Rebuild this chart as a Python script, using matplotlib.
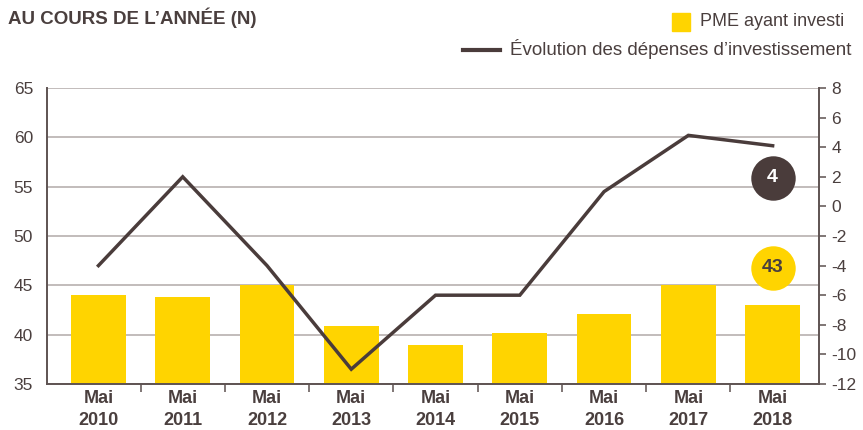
import numpy as np
import matplotlib
matplotlib.use('Agg')
import matplotlib.pyplot as plt
from matplotlib.ticker import FixedLocator
from matplotlib.transforms import offset_copy

# data
years = ['2010', '2011', '2012', '2013', '2014', '2015', '2016', '2017', '2018']
pme_investi = [44, 43.8, 45, 40.9, 39, 40.2, 42.1, 45, 43]
evolution_depenses = [-4, 2, -4, -11, -6, -6, 1, 4.8, 4.1]
left_ticks = [35, 40, 45, 50, 55, 60, 65]
right_ticks = [-12, -10, -8, -6, -4, -2, 0, 2, 4, 6, 8]

YELLOW = '#FFD400'
DARK = '#4a3c3b'
GRID = '#bdb6b5'
TEXT = '#4a3f3e'

plt.rcParams['font.family'] = ['Liberation Sans', 'DejaVu Sans']
plt.rcParams['axes.unicode_minus'] = False

fig = plt.figure(figsize=(8.63, 4.30), dpi=100)
ax1 = fig.add_axes([0.0545, 0.107, 0.8945, 0.6883])
ax2 = ax1.twinx()

x = np.arange(len(years))

# bars (left axis)
ax1.bar(x, pme_investi, width=0.65, color=YELLOW, zorder=2)
ax1.set_ylim(35, 65)
ax1.set_yticks(left_ticks)
ax1.set_xlim(-0.61, 8.55)
ax1.grid(axis='y', color=GRID, linewidth=1.3, zorder=0)
ax1.set_axisbelow(True)
ax1.set_xticks(x)
ax1.set_xticklabels(['Mai\n' + y for y in years], fontsize=13,
                    fontweight='bold', color=TEXT, linespacing=1.4)
ax1.xaxis.set_minor_locator(FixedLocator(x[:-1] + 0.5))
ax1.tick_params(axis='x', which='major', length=0, pad=4)
ax1.tick_params(axis='x', which='minor', length=6, width=1.2, color='#6a5f5e')
ax1.tick_params(axis='y', length=0, pad=10, labelsize=12.5, labelcolor=TEXT)

# line (right axis)
ax2.plot(x, evolution_depenses, color=DARK, linewidth=2.5, zorder=3,
         solid_joinstyle='miter')
ax2.set_ylim(-12, 8)
ax2.set_yticks(right_ticks)
ax2.tick_params(axis='y', length=5, width=1.2, color='#6a5f5e', pad=4,
                labelsize=12.5, labelcolor=TEXT)

for ax in (ax1, ax2):
    ax.spines['top'].set_visible(False)
    for s in ('left', 'right', 'bottom'):
        ax.spines[s].set_color('#5e5352')
        ax.spines[s].set_linewidth(1.4)
ax1.spines['right'].set_visible(False)
ax2.spines['left'].set_visible(False)
ax2.spines['bottom'].set_visible(False)

# value badges for the last year (offset from the last data point)
dark_tr = offset_copy(ax2.transData, fig=fig, x=0, y=-23, units='points')
ax2.plot(x[-1], evolution_depenses[-1], 'o', ms=32, color=DARK, mec='none',
         transform=dark_tr, zorder=5, clip_on=False)
ax2.text(x[-1], evolution_depenses[-1], f'{evolution_depenses[-1]:.0f}',
         transform=dark_tr, ha='center', va='center', fontsize=14,
         fontweight='bold', color='white', zorder=6)

yel_tr = offset_copy(ax1.transData, fig=fig, x=0, y=27, units='points')
ax1.plot(x[-1], pme_investi[-1], 'o', ms=32, color=YELLOW, mec='none',
         transform=yel_tr, zorder=5, clip_on=False)
ax1.text(x[-1], pme_investi[-1], f'{pme_investi[-1]:.0f}', transform=yel_tr,
         ha='center', va='center', fontsize=14, fontweight='bold',
         color=TEXT, zorder=6)

# title and legend
fig.text(8 / 863, 1 - 18 / 430, 'AU COURS DE L\u2019ANNÉE (N)',
         fontsize=13.5, fontweight='bold', color=TEXT, va='center', ha='left')
fig.patches.append(plt.Rectangle((672 / 863, 1 - 31 / 430), 18 / 863, 18 / 430,
                                 transform=fig.transFigure, color=YELLOW))
fig.text(700 / 863, 1 - 21 / 430, 'PME ayant investi',
         fontsize=13, color=TEXT, va='center', ha='left')
fig.lines.append(plt.Line2D([463 / 863, 500 / 863], [1 - 50 / 430, 1 - 50 / 430],
                            transform=fig.transFigure, color=DARK, linewidth=3))
fig.text(510 / 863, 1 - 49 / 430, 'Évolution des dépenses d\u2019investissement',
         fontsize=13.5, color=TEXT, va='center', ha='left')

fig.savefig('out.png', dpi=100)
